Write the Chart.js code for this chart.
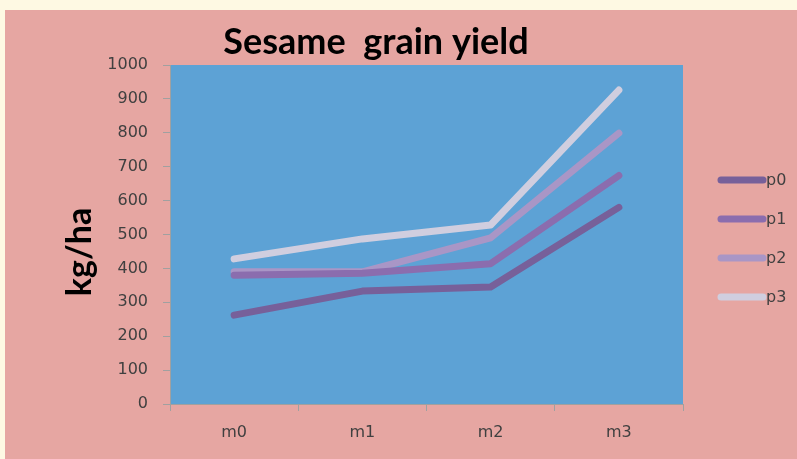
<!DOCTYPE html>
<html lang="en">

<head>
    <meta charset="UTF-8">
    <title>Sesame grain yield</title>
    <script src="https://cdn.jsdelivr.net/npm/chart.js"></script>
    <style>
        body { margin: 0; background: #fef9e3; }
        .panel { position: absolute; left: 5px; top: 10px; width: 792px; height: 449px; background: #e6a6a2; }
        .chart-box { position: absolute; left: 0; top: 0; width: 797px; height: 459px; }
    </style>
</head>

<body>
    <div class="panel"></div>
    <div class="chart-box">
        <canvas id="yieldChart" width="797" height="459"></canvas>
    </div>

    <script>
        // values (kg/ha)
        const treatments = ['m0', 'm1', 'm2', 'm3'];
        const p0 = [262, 333, 345, 580];
        const p1 = [380, 386, 414, 674];
        const p2 = [390, 390, 490, 799];
        const p3 = [428, 487, 528, 926];
        const seriesNames = ['p0', 'p1', 'p2', 'p3'];
        const seriesColors = ['#77609a', '#8b6dae', '#a996c6', '#d0cedf'];

        const tickFont = { family: 'DejaVu Sans', size: 16 };
        const textColor = '#404040';

        // blue plot area, title, y title and legend
        const decorations = {
            id: 'decorations',
            beforeDraw(chart) {
                const { ctx, chartArea: a } = chart;
                ctx.save();
                ctx.fillStyle = '#5da2d5';
                ctx.fillRect(a.left, a.top, a.right - a.left, a.bottom - a.top);
                ctx.restore();
            },
            afterDraw(chart) {
                const ctx = chart.ctx;
                ctx.save();
                ctx.fillStyle = '#000';
                ctx.textAlign = 'center';
                ctx.textBaseline = 'alphabetic';
                ctx.font = 'bold 36px Lato';
                ctx.fillText('Sesame  grain yield', 376, 54);

                ctx.translate(80, 252);
                ctx.rotate(-Math.PI / 2);
                ctx.textBaseline = 'middle';
                ctx.font = 'bold 34px Lato';
                ctx.fillText('kg/ha', 0, 0);
                ctx.restore();

                ctx.save();
                ctx.lineCap = 'round';
                ctx.lineWidth = 7;
                ctx.font = '16px DejaVu Sans';
                ctx.textBaseline = 'middle';
                chart.data.datasets.forEach((ds, i) => {
                    const y = 180 + i * 39;
                    ctx.strokeStyle = ds.borderColor;
                    ctx.beginPath();
                    ctx.moveTo(721, y);
                    ctx.lineTo(763, y);
                    ctx.stroke();
                    ctx.fillStyle = textColor;
                    ctx.fillText(ds.label, 766, y + 1);
                });
                ctx.restore();
            }
        };

        const ctx = document.getElementById('yieldChart').getContext('2d');
        new Chart(ctx, {
            type: 'line',
            data: {
                labels: treatments,
                datasets: [p0, p1, p2, p3].map((vals, i) => ({
                    label: seriesNames[i],
                    data: vals,
                    borderColor: seriesColors[i],
                    borderWidth: 7,
                    borderCapStyle: 'round',
                    borderJoinStyle: 'round',
                    pointRadius: 0,
                    tension: 0,
                    fill: false
                }))
            },
            options: {
                responsive: false,
                animation: false,
                layout: { padding: { left: 64, right: 114, top: 65, bottom: 0 } },
                plugins: {
                    legend: { display: false },
                    title: { display: false },
                    tooltip: { enabled: false }
                },
                scales: {
                    x: {
                        offset: true,
                        afterFit: s => { s.height = 55; },
                        grid: {
                            offset: true,
                            drawOnChartArea: false,
                            tickLength: 7,
                            color: '#a0a0a0'
                        },
                        border: { color: '#a0a0a0' },
                        ticks: { font: tickFont, color: textColor, padding: 12 }
                    },
                    y: {
                        min: 0,
                        max: 1000,
                        afterFit: s => { s.width = 106; },
                        grid: {
                            drawOnChartArea: false,
                            tickLength: 7,
                            color: '#a0a0a0'
                        },
                        border: { color: '#a0a0a0' },
                        ticks: {
                            stepSize: 100,
                            font: tickFont,
                            color: textColor,
                            padding: 15,
                            callback: v => String(v)
                        }
                    }
                }
            },
            plugins: [decorations]
        });
    </script>
</body>

</html>
